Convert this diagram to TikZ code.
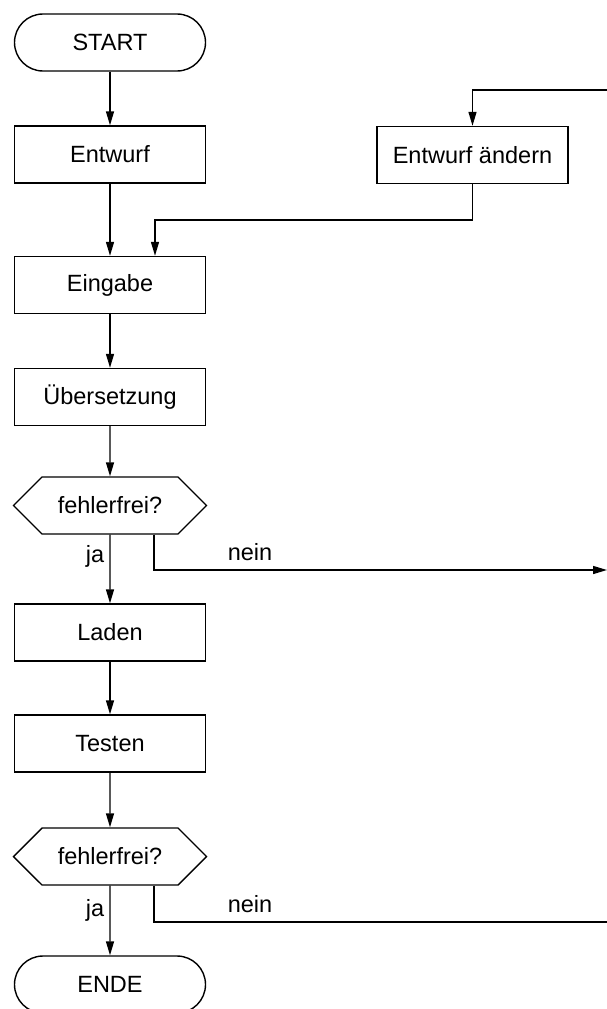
\documentclass[tikz,border=0pt]{standalone}
\usepackage{fontspec}
\setmainfont{Liberation Sans}
\usetikzlibrary{arrows.meta,shapes.symbols}
\begin{document}
\begin{tikzpicture}[x=1pt,y=-1pt,
  every node/.style={font=\fontsize{23.5}{26}\selectfont},
  box/.style={draw,line width=1.4pt,minimum width=191pt,minimum height=57pt,inner sep=0pt},
  term/.style={box,rounded corners=28.5pt},
  dec/.style={draw,line width=1.4pt,shape=signal,signal to=west and east,signal pointer angle=90,minimum width=193pt,minimum height=57pt,inner sep=0pt},
  arr/.style={line width=1.4pt,-{Triangle[length=14pt,width=8pt]}},
  ln/.style={line width=1.4pt},
  lbl/.style={inner sep=0pt}]
\useasboundingbox (0,0) rectangle (607,1009);
\node[term] (start) at (110,42.5) {START};
\node[box] (entwurf) at (110,154.5) {Entwurf};
\node[box] (aendern) at (472.5,155) {Entwurf ändern};
\node[box] (eingabe) at (110,285) {Eingabe};
\node[box] (uebers) at (110,397) {Übersetzung};
\node[dec] (h1) at (110,505.5) {fehlerfrei?};
\node[box] (laden) at (110,632.5) {Laden};
\node[box] (testen) at (110,743.5) {Testen};
\node[dec] (h2) at (110,856.5) {fehlerfrei?};
\node[term] (ende) at (110,984.5) {ENDE};
\coordinate (r1) at (607,90);
\coordinate (jn) at (155,220);
\coordinate (r2) at (607,570);
\coordinate (r3) at (607,922);
\draw[arr] (start) -- (entwurf);
\draw[arr] (entwurf) -- (eingabe);
\draw[arr] (eingabe) -- (uebers);
\draw[arr] (uebers) -- (h1);
\draw[arr] (h1) -- (laden);
\draw[arr] (laden) -- (testen);
\draw[arr] (testen) -- (h2);
\draw[arr] (h2) -- (ende);
\draw[arr] (r1) -| (aendern.north);
\draw[arr] (aendern.south) |- (jn) -- (jn |- eingabe.north);
\draw[arr] ([xshift=44pt]h1.south) |- (r2);
\draw[ln] ([xshift=44pt]h2.south) |- (r3);
\node[lbl] (ja1) at (95,556) {ja};
\node[lbl] (nein1) at (250,552) {nein};
\node[lbl] (ja2) at (95,910) {ja};
\node[lbl] (nein2) at (250,904) {nein};
\end{tikzpicture}
\end{document}
